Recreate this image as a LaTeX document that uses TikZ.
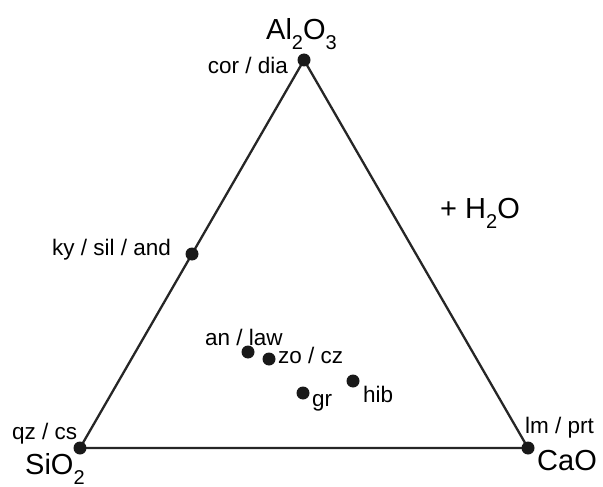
\documentclass[tikz,border=0pt]{standalone}
\usepackage{fontspec}
\setmainfont{Liberation Sans}
\newcommand{\chemsub}[1]{\raisebox{-10pt}{\fontsize{20}{20}\selectfont #1}}
\begin{document}
\begin{tikzpicture}[x=1pt,y=-1pt,
  dot/.style={circle,fill=black!90,minimum size=13pt,inner sep=0pt},
  edge/.style={line width=2.3pt,black!85},
  lab/.style={inner sep=0pt,font=\fontsize{22.5}{26}\selectfont},
  big/.style={inner sep=0pt,font=\fontsize{29}{32}\selectfont}]
\useasboundingbox (0,0) rectangle (603,487);
\coordinate (A) at (304,60);
\coordinate (S) at (80,448);
\coordinate (C) at (528,448);
\draw[edge] (A) -- (S) -- (C) -- cycle;
\node[dot] (al) at (A) {};
\node[dot] (si) at (S) {};
\node[dot] (ca) at (C) {};
\node[dot] (ky) at (192,254) {};
\node[dot] (an) at (248,352) {};
\node[dot] (zo) at (269,359) {};
\node[dot] (hib) at (353,381) {};
\node[dot] (gr) at (303,393) {};
\node[big,anchor=base west] (talo) at (266,40) {Al\chemsub{2}O\chemsub{3}};
\node[lab,anchor=base east] (tcor) at (288,74) {cor / dia};
\node[lab,anchor=base west] (tky) at (52,255) {ky / sil / and};
\node[lab,anchor=base west] (tqz) at (12,439) {qz / cs};
\node[big,anchor=base west] (tsio) at (25,474) {SiO\chemsub{2}};
\node[lab,anchor=base west] (tlm) at (525,433) {lm / prt};
\node[big,anchor=base west] (tcao) at (537,470) {CaO};
\node[lab,anchor=base west] (tan) at (205,345) {an / law};
\node[lab,anchor=base west] (tzo) at (278,363) {zo / cz};
\node[lab,anchor=base west] (thib) at (363,402) {hib};
\node[lab,anchor=base west] (tgr) at (312,406) {gr};
\node[big,anchor=base west] (th2o) at (440,218) {+ H\chemsub{2}O};
\end{tikzpicture}
\end{document}
